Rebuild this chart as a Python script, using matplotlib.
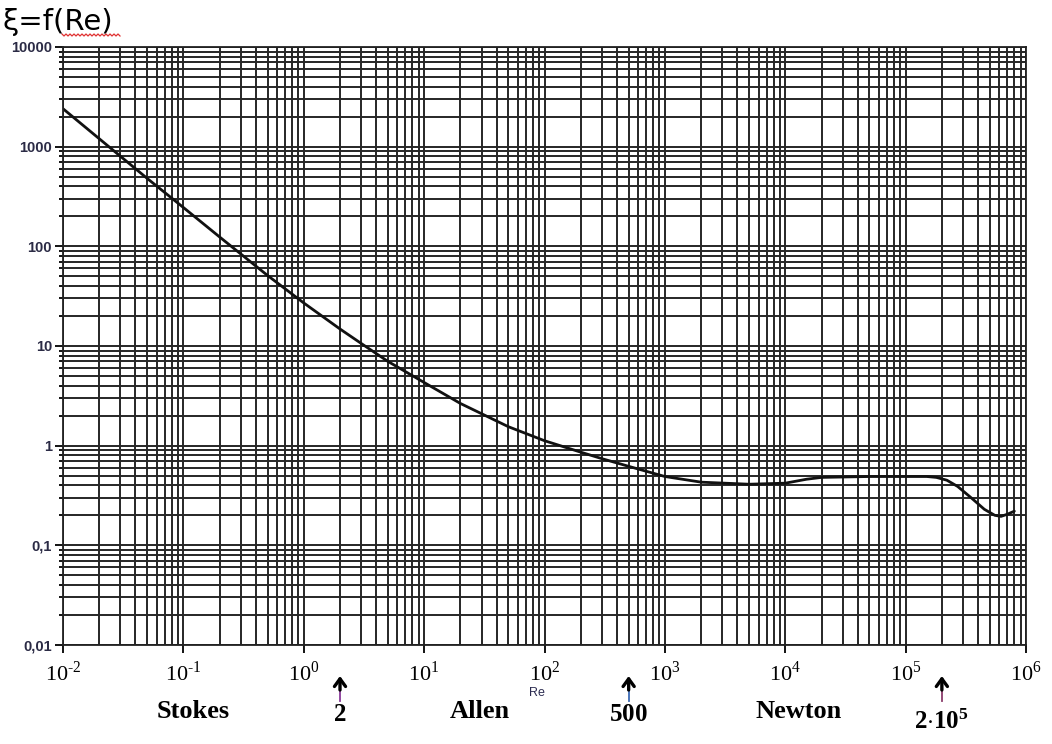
import numpy as np
import matplotlib
matplotlib.use("Agg")
import matplotlib.pyplot as plt
import matplotlib.transforms as mtransforms
from matplotlib.lines import Line2D

plt.rcParams['mathtext.fontset'] = 'custom'
plt.rcParams['mathtext.rm'] = 'Liberation Serif'
plt.rcParams['mathtext.bf'] = 'Liberation Serif:bold'

# drag coefficient of a sphere vs Reynolds number
re_vals = [0.01, 0.02, 0.05, 0.1, 0.2, 0.5, 1, 2, 3, 5, 10, 20, 50, 100, 200,
           300, 500, 1000, 2000, 5000, 1e4, 1.5e4, 2e4, 5e4, 1e5, 1.5e5, 1.8e5,
           2.2e5, 2.7e5, 3.5e5, 4.5e5, 5.5e5, 6.2e5, 7e5, 8e5]
xi_vals = [2400, 1200, 480, 245, 124, 51, 27, 14.8, 10.6, 7.0, 4.3, 2.65, 1.55,
           1.12, 0.86, 0.74, 0.62, 0.49, 0.43, 0.41, 0.42, 0.46, 0.48, 0.49,
           0.49, 0.49, 0.48, 0.45, 0.39, 0.30, 0.23, 0.20, 0.195, 0.205, 0.22]

y_ticks = [0.01, 0.1, 1, 10, 100, 1000, 10000]
y_labels = ['0,01', '0,1', '1', '10', '100', '1000', '10000']
x_ticks = [1e-2, 1e-1, 1e0, 1e1, 1e2, 1e3, 1e4, 1e5, 1e6]
x_labels = [r'$10^{\mathrm{\text{-}%d}}$' % -p if p < 0 else '$10^{%d}$' % p
            for p in range(-2, 7)]

# flow regimes and their boundaries
regimes = ['Stokes', 'Allen', 'Newton']
regime_x = [0.12, 29, 1.3e4]
bounds = [2, 500, 2e5]
bound_labels = [r'$\mathbf{2}$', r'$\mathbf{500}$', r'$\mathbf{2{\cdot}10^5}$']
bound_label_y = [714, 714, 722]
bound_colors = ['#8a3c9a', '#3c6ab4', '#8a3c6a']

fig = plt.figure(figsize=(10.52, 7.44), dpi=100)
ax = fig.add_axes([0.0599, 0.1331, 0.9154, 0.8038])
ax.set_xscale('log')
ax.set_yscale('log')
ax.set_xlim(1e-2, 1e6)
ax.set_ylim(0.01, 10000)

ax.xaxis.set_major_locator(matplotlib.ticker.FixedLocator(x_ticks))
ax.xaxis.set_minor_locator(matplotlib.ticker.LogLocator(base=10, subs=np.arange(2, 10)))
ax.yaxis.set_major_locator(matplotlib.ticker.FixedLocator(y_ticks))
ax.yaxis.set_minor_locator(matplotlib.ticker.LogLocator(base=10, subs=np.arange(2, 10)))
ax.set_xticklabels(x_labels, fontsize=16)
ax.set_yticklabels(y_labels, fontsize=10.5, family='Liberation Sans',
                   color='#2b2b45', fontweight='bold')
ax.xaxis.set_minor_formatter(matplotlib.ticker.NullFormatter())
ax.yaxis.set_minor_formatter(matplotlib.ticker.NullFormatter())

ax.grid(which='both', color='#262626', lw=1.4)
ax.tick_params(axis='x', which='major', direction='out', length=6, width=1.3, pad=5)
ax.tick_params(axis='x', which='minor', length=0)
ax.tick_params(axis='y', which='major', direction='out', length=6, width=1.3, pad=2)
ax.tick_params(axis='y', which='minor', direction='out', length=3, width=1.3)
for s in ax.spines.values():
    s.set_color('#222222')
    s.set_linewidth(1.3)

ax.plot(re_vals, xi_vals, color='#111111', lw=2, solid_capstyle='round')

# regime names and boundary arrows below the axis
trans = mtransforms.blended_transform_factory(ax.transData, fig.transFigure)
for name, xpos in zip(regimes, regime_x):
    ax.text(xpos, 1 - 712 / 744, name, transform=trans, ha='center', va='center',
            family='Liberation Serif', fontweight='bold', fontsize=19)
for b, lab, ly, col in zip(bounds, bound_labels, bound_label_y, bound_colors):
    ax.plot([b, b], [1 - 701 / 744, 1 - 684 / 744], transform=trans,
            color=col, lw=1.3, clip_on=False)
    ax.annotate('', xy=(b, 1 - 676 / 744), xytext=(b, 1 - 690 / 744),
                xycoords=trans, textcoords=trans,
                arrowprops=dict(arrowstyle='->,head_length=0.55,head_width=0.4',
                                color='black', lw=2.4, shrinkA=0, shrinkB=0))
    ax.text(b, 1 - ly / 744, lab, transform=trans, ha='center', va='center',
            fontsize=18)

ax.text(86, 1 - 693 / 744, 'Re', transform=trans, ha='center', va='center',
        family='Liberation Sans', fontsize=9, color='#2b2b50')

fig.text(3 / 1052, 1 - 22 / 744, 'ξ=f(Re)', ha='left', va='center',
         family='DejaVu Sans', fontsize=21)

# spell-check style squiggle under "Re"
sq_x = np.arange(62, 122, 2.0)
sq_y = 35 + np.where(np.arange(len(sq_x)) % 2 == 0, -1.0, 1.0)
fig.add_artist(Line2D(sq_x / 1052, 1 - sq_y / 744, color='#e03030', lw=0.9,
                      transform=fig.transFigure))

fig.savefig('out.png', dpi=100)
